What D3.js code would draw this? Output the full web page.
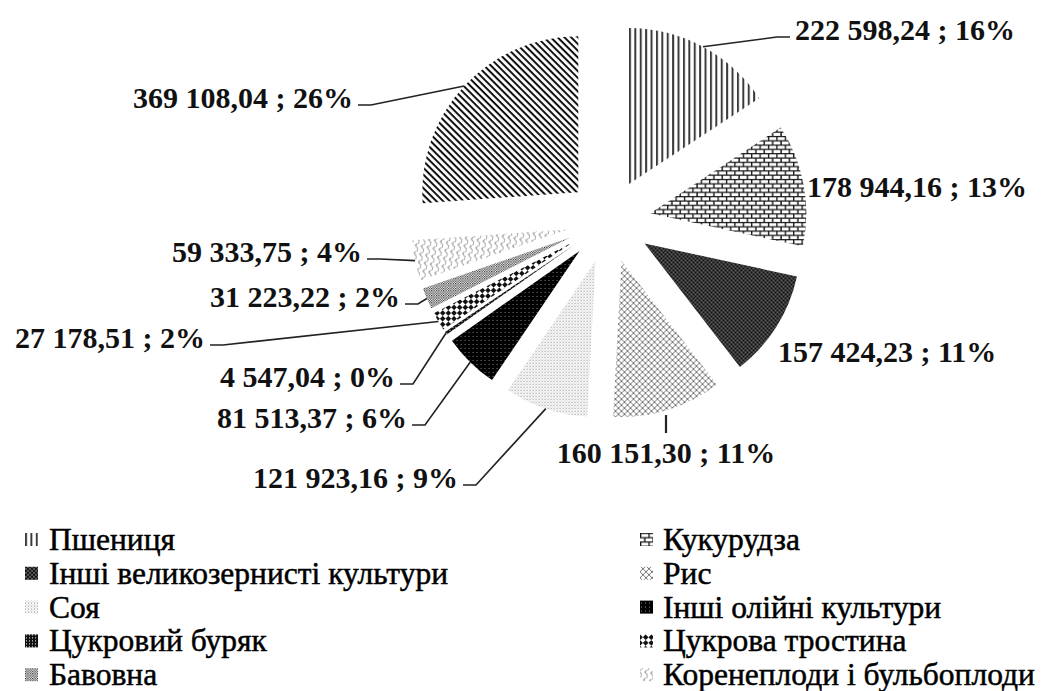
<!DOCTYPE html>
<html>
<head>
<meta charset="utf-8">
<script src="https://cdn.jsdelivr.net/npm/d3@7"></script>
<style>
  body { margin: 0; background: #fff; }
</style>
</head>
<body>
<svg id="chart" width="1045" height="691"></svg>
<script>

// data (values in the order of the pie, clockwise from 12 o'clock)
var categories = ["Пшениця", "Кукурудза", "Інші великозернисті культури", "Рис", "Соя",
    "Інші олійні культури", "Цукровий буряк", "Цукрова тростина", "Бавовна",
    "Коренеплоди і бульбоплоди", "Інші культури"];
var values = [222598.24, 178944.16, 157424.23, 160151.30, 121923.16, 81513.37,
    4547.04, 27178.51, 31223.22, 59333.75, 369108.04];
// the source legend is cut off at the bottom, only the first ten entries show
var legendCount = 10;

// label placement (hand placed in the original, like excel does)
var labelLayout = [
  {x: 795, y: 40,  anchor: "start",  leader: "side"},
  {x: 807, y: 197, anchor: "start",  leader: null},
  {x: 778, y: 362, anchor: "start",  leader: null},
  {x: 666, y: 463, anchor: "middle", leader: "top"},
  {x: 458, y: 488, anchor: "end",    leader: "side"},
  {x: 407, y: 428, anchor: "end",    leader: "side"},
  {x: 395, y: 387, anchor: "end",    leader: "side"},
  {x: 205, y: 348, anchor: "end",    leader: "side"},
  {x: 400, y: 307, anchor: "end",    leader: "side"},
  {x: 362, y: 262, anchor: "end",    leader: "side"},
  {x: 353, y: 108, anchor: "end",    leader: "side"}
];

var cx = 609, cy = 221,
    radius = 156,
    explode = 42;

var svg = d3.select("#chart");
var defs = svg.append("defs");

// black & white fills, one per slice
function pattern(id, w, h, draw, rotate) {
  var p = defs.append("pattern")
      .attr("id", id)
      .attr("patternUnits", "userSpaceOnUse")
      .attr("width", w)
      .attr("height", h);
  if (rotate) p.attr("patternTransform", "rotate(" + rotate + ")");
  p.append("rect").attr("width", w).attr("height", h).attr("fill", "#fff");
  draw(p);
}

pattern("p0", 5.4, 4, function(p) {
  p.append("rect").attr("width", 2).attr("height", 4).attr("fill", "#3a3a3a");
});
pattern("p1", 8.4, 8.6, function(p) {
  p.append("path")
      .attr("d", "M0,0.6H8.4M0,4.9H8.4M0.6,0.6V4.9M4.8,4.9V8.6")
      .attr("stroke", "#111").attr("stroke-width", 1.4).attr("fill", "none");
});
pattern("p2", 4, 4, function(p) {
  p.append("rect").attr("width", 4).attr("height", 4).attr("fill", "#111");
  p.append("circle").attr("cx", 1).attr("cy", 1).attr("r", 0.7).attr("fill", "#ddd");
  p.append("circle").attr("cx", 3).attr("cy", 3).attr("r", 0.7).attr("fill", "#ddd");
});
pattern("p3", 6, 6, function(p) {
  p.append("path")
      .attr("d", "M0,0L6,6M6,0L0,6M-1,5L1,7M5,-1L7,1")
      .attr("stroke", "#777").attr("stroke-width", 1).attr("fill", "none");
});
pattern("p4", 3, 3, function(p) {
  p.append("rect").attr("width", 1).attr("height", 1).attr("fill", "#888");
  p.append("rect").attr("x", 1.5).attr("y", 1.5).attr("width", 1).attr("height", 1).attr("fill", "#aaa");
});
pattern("p5", 4, 4, function(p) {
  p.append("rect").attr("width", 4).attr("height", 4).attr("fill", "#000");
  p.append("rect").attr("x", 1).attr("y", 1).attr("width", 1).attr("height", 1).attr("fill", "#888");
});
pattern("p6", 3, 3, function(p) {
  p.append("rect").attr("width", 3).attr("height", 3).attr("fill", "#111");
  p.append("rect").attr("x", 1).attr("y", 1).attr("width", 1).attr("height", 1).attr("fill", "#fff");
});
pattern("p7", 8, 8, function(p) {
  p.append("rect").attr("width", 4).attr("height", 4).attr("fill", "#111");
  p.append("rect").attr("x", 4).attr("y", 4).attr("width", 4).attr("height", 4).attr("fill", "#111");
}, 45);
pattern("p8", 2.4, 2.4, function(p) {
  p.append("rect").attr("width", 1.2).attr("height", 1.2).attr("fill", "#222");
  p.append("rect").attr("x", 1.2).attr("y", 1.2).attr("width", 1.2).attr("height", 1.2).attr("fill", "#555");
});
pattern("p9", 8, 6, function(p) {
  p.append("path")
      .attr("d", "M0,1.5Q2,5 4,1.5T8,1.5")
      .attr("stroke", "#777").attr("stroke-width", 1).attr("fill", "none");
}, 100);
pattern("p10", 4.8, 4.8, function(p) {
  p.append("rect").attr("width", 4.8).attr("height", 2).attr("fill", "#111");
}, 45);

var fills = categories.map(function(d, i) { return "url(#p" + i + ")"; });

var pie = d3.pie()
    .sort(null)
    .value(function(d) { return d; });

var arc = d3.arc()
    .innerRadius(0)
    .outerRadius(radius);

var arcs = pie(values);

function dir(a) { return [Math.sin(a), -Math.cos(a)]; }

var g = svg.append("g")
    .attr("transform", "translate(" + cx + "," + cy + ")");

g.selectAll(".slice")
    .data(arcs)
  .enter().append("path")
    .attr("class", "slice")
    .attr("transform", function(d) {
      var v = dir((d.startAngle + d.endAngle) / 2);
      return "translate(" + (v[0] * explode) + "," + (v[1] * explode) + ")";
    })
    .attr("d", arc)
    .attr("fill", function(d, i) { return fills[i]; });

// value labels
var uaLocale = d3.formatLocale({decimal: ",", thousands: " ", grouping: [3], currency: ["", ""]});
var fmtValue = uaLocale.format(",.2f"),
    fmtPct = d3.format(".0%"),
    total = d3.sum(values);

var line = d3.line();

var labels = svg.append("g");

arcs.forEach(function(d, i) {
  var lay = labelLayout[i];
  var v = dir((d.startAngle + d.endAngle) / 2);
  var outer = [cx + v[0] * (explode + radius), cy + v[1] * (explode + radius)];

  if (lay.leader === "side") {
    var s = lay.anchor === "end" ? 1 : -1;
    var end = [lay.x + s * 5, lay.y - 3],
        elbow = [lay.x + s * 18, lay.y - 3];
    labels.append("path")
        .attr("d", line([outer, elbow, end]))
        .attr("fill", "none")
        .attr("stroke", "#222")
        .attr("stroke-width", 1.6);
  } else if (lay.leader === "top") {
    labels.append("path")
        .attr("d", line([[lay.x, outer[1] + 5], [lay.x, lay.y - 30]]))
        .attr("fill", "none")
        .attr("stroke", "#222")
        .attr("stroke-width", 2.2);
  }

  labels.append("text")
      .attr("x", lay.x)
      .attr("y", lay.y)
      .attr("text-anchor", lay.anchor)
      .attr("font-family", "Liberation Serif")
      .attr("font-weight", "bold")
      .attr("font-size", 30)
      .attr("fill", "#111")
      .text(fmtValue(values[i]) + " ; " + fmtPct(values[i] / total));
});

// legend, two columns filled row by row
var legend = svg.selectAll(".legend")
    .data(categories.slice(0, legendCount))
  .enter().append("g")
    .attr("class", "legend")
    .attr("transform", function(d, i) {
      var col = i % 2, row = Math.floor(i / 2);
      return "translate(" + (col ? 640 : 25) + "," + (550 + row * 33.8) + ")";
    });

legend.append("rect")
    .attr("y", -17)
    .attr("width", 13)
    .attr("height", 13)
    .attr("fill", function(d, i) { return fills[i]; });

legend.append("text")
    .attr("x", function(d, i) { return i % 2 ? 23 : 24; })
    .attr("font-family", "Liberation Serif")
    .attr("font-size", 31.5)
    .attr("fill", "#000")
    .attr("stroke", "#000")
    .attr("stroke-width", 0.5)
    .text(function(d) { return d; });

</script>
</body>
</html>
